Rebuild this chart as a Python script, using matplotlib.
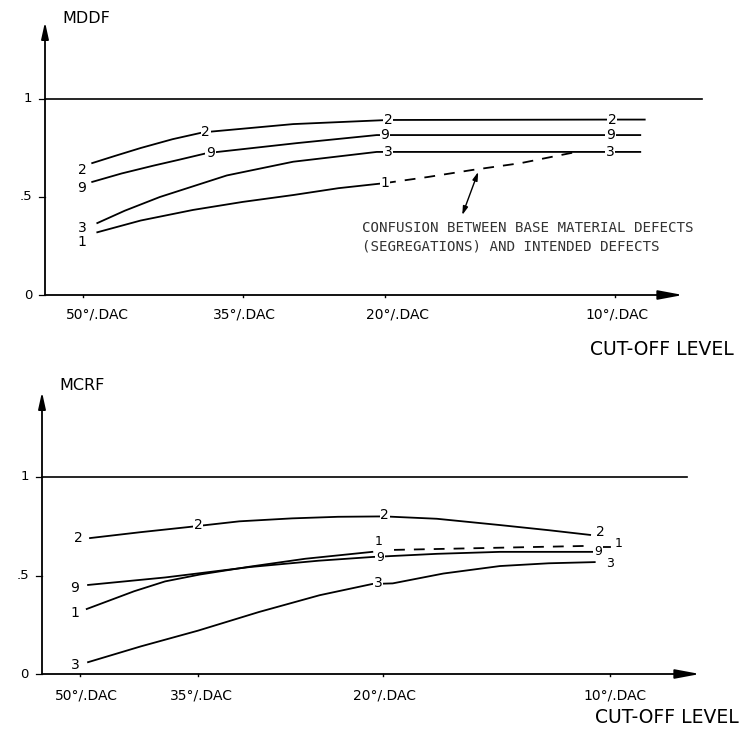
import matplotlib.pyplot as plt

# cut-off levels along the x axis (x = position along the axis, in % of axis length)
LEVELS = ["50°/.DAC", "35°/.DAC", "20°/.DAC", "10°/.DAC"]
TOP_TICKS = [6.0, 31.0, 53.3, 89.3]
BOT_TICKS = [5.8, 23.7, 51.8, 86.3]

# ---- MDDF (top) ----
MDDF_2_X = [7.4, 11.0, 15.0, 20.0, 24.8, 38.9, 53.8, 88.9, 94.0]
MDDF_2_Y = [0.673, 0.71, 0.75, 0.795, 0.83, 0.872, 0.893, 0.895, 0.895]
MDDF_9_X = [7.4, 12.0, 17.0, 21.0, 25.4, 39.5, 52.0, 88.9, 93.3]
MDDF_9_Y = [0.577, 0.62, 0.66, 0.69, 0.724, 0.775, 0.816, 0.816, 0.816]
MDDF_3_X = [8.2, 12.5, 18.0, 28.5, 38.9, 52.0, 88.9, 93.3]
MDDF_3_Y = [0.367, 0.43, 0.50, 0.61, 0.68, 0.73, 0.73, 0.73]
MDDF_1_X = [8.2, 15.0, 23.2, 31.0, 38.9, 46.0, 53.3]
MDDF_1_Y = [0.32, 0.38, 0.434, 0.475, 0.51, 0.545, 0.571]
MDDF_1_DASH_X = [53.3, 60.0, 67.0, 74.6, 79.3, 83.0]
MDDF_1_DASH_Y = [0.571, 0.602, 0.638, 0.673, 0.704, 0.728]

# ---- MCRF (bottom) ----
MCRF_2_X = [7.3, 15.0, 22.0, 30.0, 38.0, 45.0, 52.0, 60.0, 69.6, 77.0, 83.3]
MCRF_2_Y = [0.69, 0.72, 0.745, 0.775, 0.79, 0.798, 0.80, 0.788, 0.756, 0.73, 0.706]
MCRF_9_X = [7.0, 18.7, 31.6, 42.0, 50.2, 60.0, 69.6, 84.0]
MCRF_9_Y = [0.452, 0.49, 0.543, 0.575, 0.594, 0.61, 0.62, 0.62]
MCRF_1_X = [6.8, 10.0, 14.0, 18.7, 24.0, 31.6, 40.0, 50.2]
MCRF_1_Y = [0.33, 0.37, 0.42, 0.47, 0.505, 0.545, 0.585, 0.62]
MCRF_1_DASH_X = [53.5, 82.5]
MCRF_1_DASH_Y = [0.63, 0.65]
MCRF_1_END_X = [84.3, 86.3]
MCRF_1_END_Y = [0.645, 0.645]
MCRF_3_X = [7.0, 15.0, 23.7, 33.0, 42.2, 50.2, 53.3, 61.0, 69.6, 77.0, 84.0]
MCRF_3_Y = [0.06, 0.14, 0.22, 0.315, 0.40, 0.457, 0.46, 0.51, 0.548, 0.562, 0.568]

W, H = 753, 731
fig = plt.figure(figsize=(W / 100, H / 100), dpi=100)
plt.rcParams["font.family"] = "DejaVu Sans"

LW = 1.3
DASH = (0, (6, 5))
bbox = dict(facecolor="white", edgecolor="none", pad=0.6)


def make_axes(left, xaxis_y, right, top):
    ax = fig.add_axes([left / W, 1 - xaxis_y / H, (right - left) / W, (xaxis_y - top) / H])
    for s in ax.spines.values():
        s.set_visible(False)
    ax.set_xlim(0, 100)
    ax.set_xticks([])
    ax.set_yticks([])
    # axes with arrow heads
    ax.annotate("", xy=(1.0, 0), xytext=(0, 0), xycoords="axes fraction",
                arrowprops=dict(arrowstyle="-|>,head_length=1.5,head_width=0.28", color="black", lw=1.3,
                                shrinkA=0, shrinkB=0))
    ax.annotate("", xy=(0, 1.0), xytext=(0, 0), xycoords="axes fraction",
                arrowprops=dict(arrowstyle="-|>,head_length=1.0,head_width=0.22", color="black", lw=1.3,
                                shrinkA=0, shrinkB=0))
    return ax


def lab(ax, x, y, s, size=10):
    ax.text(x, y, s, ha="center", va="center", fontsize=size, bbox=bbox, zorder=5, clip_on=False)


def frame(ax, ticks, lab_x, lab_y, cut_xy, ylab, ylab_xy, ref_end):
    ax.plot([0, ref_end], [1, 1], color="black", lw=1.2, clip_on=False)
    for t in ticks:
        ax.plot([t, t], [0, -0.012], color="black", lw=1.0, clip_on=False)
    for x, s in zip(lab_x, LEVELS):
        ax.text(x, lab_y, s, ha="center", va="center", fontsize=10, clip_on=False)
    ax.text(cut_xy[0], cut_xy[1], "CUT-OFF LEVEL", ha="center", va="center", fontsize=13.5, clip_on=False)
    ax.text(ylab_xy[0], ylab_xy[1], ylab, ha="left", va="center", fontsize=11.5, clip_on=False)
    for v, s in [(0, "0"), (0.5, ".5"), (1, "1")]:
        ax.plot([-0.9, 0], [v, v], color="black", lw=0.9, clip_on=False)
        ax.text(-2.0, v, s, ha="right", va="center", fontsize=9.5, clip_on=False)


# ================= top: MDDF =================
ax1 = make_axes(45, 295, 683, 22)
ax1.set_ylim(0, 273 / 196)
frame(ax1, TOP_TICKS, [8.2, 31.2, 55.3, 89.7], -0.10, (96.7, -0.28), "MDDF", (2.7, 1.413), 103)

for xs, ys in [(MDDF_2_X, MDDF_2_Y), (MDDF_9_X, MDDF_9_Y), (MDDF_3_X, MDDF_3_Y), (MDDF_1_X, MDDF_1_Y)]:
    ax1.plot(xs, ys, color="black", lw=LW, clip_on=False)
ax1.plot(MDDF_1_DASH_X, MDDF_1_DASH_Y, color="black", lw=LW, ls=DASH)

lab(ax1, 5.8, 0.64, "2"); lab(ax1, 25.2, 0.83, "2"); lab(ax1, 53.8, 0.893, "2"); lab(ax1, 88.9, 0.895, "2")
lab(ax1, 5.8, 0.546, "9"); lab(ax1, 25.9, 0.724, "9"); lab(ax1, 53.3, 0.816, "9"); lab(ax1, 88.6, 0.816, "9")
lab(ax1, 5.8, 0.34, "3"); lab(ax1, 53.8, 0.73, "3"); lab(ax1, 88.6, 0.73, "3")
lab(ax1, 5.8, 0.27, "1"); lab(ax1, 53.3, 0.571, "1")

ax1.annotate("", xy=(67.9, 0.628), xytext=(65.4, 0.408),
             arrowprops=dict(arrowstyle="<|-|>,head_length=0.5,head_width=0.15", color="black", lw=1.0,
                             shrinkA=0, shrinkB=0))
ax1.text(49.7, 0.342, "CONFUSION BETWEEN BASE MATERIAL DEFECTS", ha="left", va="center",
         fontsize=10.2, family="DejaVu Sans Mono", color="#333333")
ax1.text(49.7, 0.245, "(SEGREGATIONS) AND INTENDED DEFECTS", ha="left", va="center",
         fontsize=10.2, family="DejaVu Sans Mono", color="#333333")

# ================= bottom: MCRF =================
ax2 = make_axes(42, 674, 700, 392)
ax2.set_ylim(0, 282 / 197)
frame(ax2, BOT_TICKS, [6.8, 24.3, 52.1, 87.1], -0.107, (95.0, -0.223), "MCRF", (2.7, 1.467), 98)

for xs, ys in [(MCRF_2_X, MCRF_2_Y), (MCRF_9_X, MCRF_9_Y), (MCRF_1_X, MCRF_1_Y), (MCRF_3_X, MCRF_3_Y),
               (MCRF_1_END_X, MCRF_1_END_Y)]:
    ax2.plot(xs, ys, color="black", lw=LW)
ax2.plot(MCRF_1_DASH_X, MCRF_1_DASH_Y, color="black", lw=LW, ls=DASH)

lab(ax2, 5.5, 0.69, "2"); lab(ax2, 23.7, 0.756, "2"); lab(ax2, 52.1, 0.807, "2"); lab(ax2, 84.8, 0.72, "2")
lab(ax2, 5.0, 0.437, "9"); lab(ax2, 51.4, 0.59, "9", 9); lab(ax2, 84.5, 0.622, "9", 9)
lab(ax2, 5.0, 0.31, "1"); lab(ax2, 51.1, 0.672, "1", 9); lab(ax2, 87.6, 0.66, "1", 9)
lab(ax2, 5.0, 0.045, "3"); lab(ax2, 51.1, 0.46, "3"); lab(ax2, 86.3, 0.56, "3", 9)

fig.savefig("out.png", dpi=100)
